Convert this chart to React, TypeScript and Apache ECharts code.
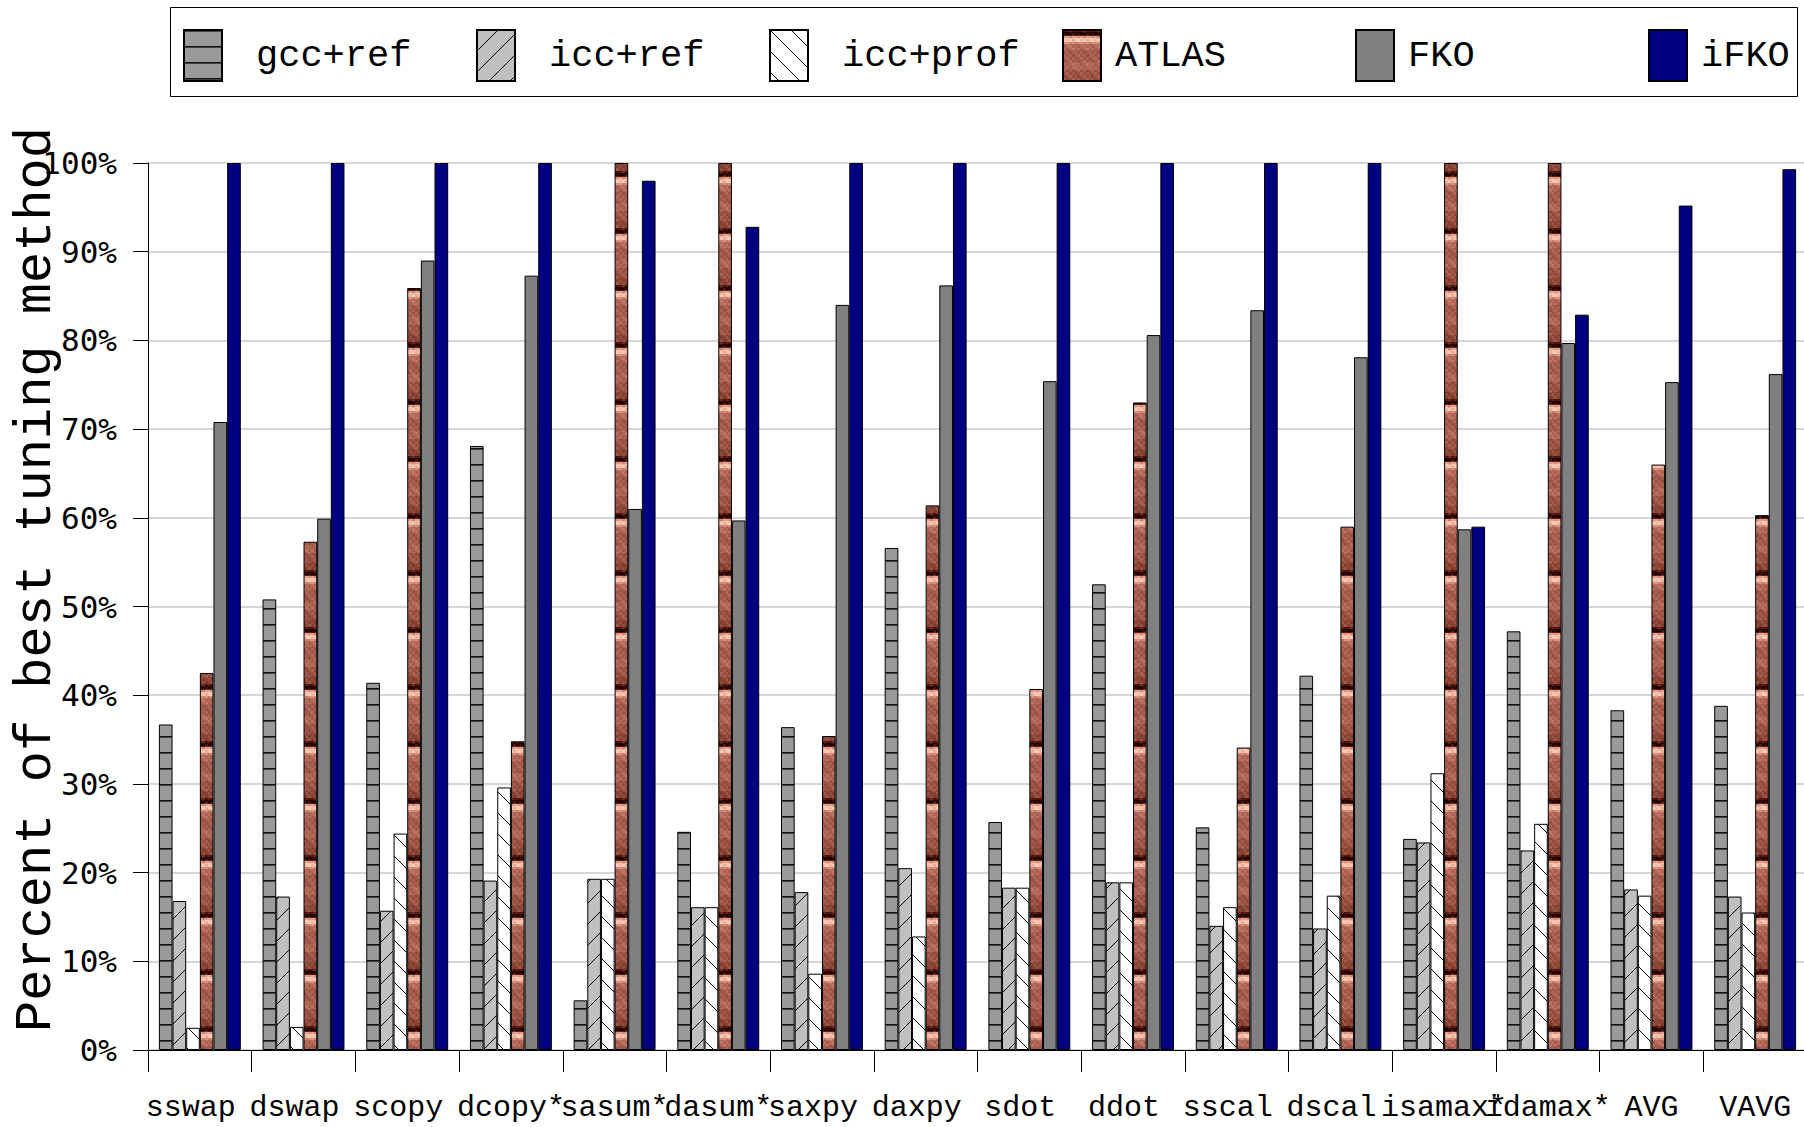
import React, { useEffect, useRef } from 'react';
import * as echarts from 'echarts';

// Kernels on the x axis
const categories = [
  'sswap', 'dswap', 'scopy', 'dcopy*', 'sasum*', 'dasum*', 'saxpy', 'daxpy',
  'sdot', 'ddot', 'sscal', 'dscal', 'isamax*', 'idamax*', 'AVG', 'VAVG',
];

// Tuning methods (legend order)
const methods = ['gcc+ref', 'icc+ref', 'icc+prof', 'ATLAS', 'FKO', 'iFKO'];

// Percent of best tuning method, per kernel
const gccRef = [36.7, 50.8, 41.4, 68.1, 5.6, 24.6, 36.4, 56.6, 25.7, 52.5, 25.1, 42.2, 23.8, 47.2, 38.3, 38.8];
const iccRef = [16.8, 17.3, 15.7, 19.1, 19.3, 16.1, 17.8, 20.5, 18.3, 18.9, 14.0, 13.7, 23.4, 22.5, 18.1, 17.3];
const iccProf = [2.5, 2.6, 24.4, 29.6, 19.3, 16.1, 8.6, 12.8, 18.3, 18.9, 16.1, 17.4, 31.2, 25.5, 17.4, 15.5];
const atlas = [42.5, 57.3, 85.9, 34.8, 100, 100, 35.4, 61.4, 40.7, 73.0, 34.1, 59.0, 100, 100, 66.0, 60.3];
const fko = [70.8, 59.9, 89.0, 87.3, 61.0, 59.7, 84.0, 86.2, 75.4, 80.6, 83.4, 78.1, 58.7, 79.7, 75.3, 76.2];
const ifko = [100, 100, 100, 100, 98.0, 92.8, 100, 100, 100, 100, 100, 100, 59.0, 82.9, 95.2, 99.3];

// Value axis range
const yMin = 0;
const yMax = 100;
const yStep = 10;

type Ctx = CanvasRenderingContext2D;

function makeTile(w: number, h: number, draw: (ctx: Ctx) => void) {
  const c = document.createElement('canvas');
  c.width = w;
  c.height = h;
  const ctx = c.getContext('2d') as Ctx;
  draw(ctx);
  return { image: c, repeat: 'repeat', imageWidth: w, imageHeight: h };
}

// Gray fill ruled with horizontal lines
function ruledFill() {
  return makeTile(16, 16, (ctx) => {
    ctx.fillStyle = '#9a9a9a';
    ctx.fillRect(0, 0, 16, 16);
    ctx.fillStyle = '#111';
    ctx.fillRect(0, 0, 16, 1);
    ctx.fillStyle = '#444';
    ctx.fillRect(0, 1, 16, 1);
  });
}

// Diagonal hatching: dir 1 = "/", dir -1 = "\"
function hatchFill(bg: string, dir: number) {
  const s = 21;
  return makeTile(s, s, (ctx) => {
    ctx.fillStyle = bg;
    ctx.fillRect(0, 0, s, s);
    ctx.strokeStyle = '#000';
    ctx.lineWidth = 1;
    ctx.beginPath();
    for (const o of [-s, 0, s]) {
      if (dir > 0) {
        ctx.moveTo(o - 1, s + 1);
        ctx.lineTo(o + s + 1, -1);
      } else {
        ctx.moveTo(o - 1, -1);
        ctx.lineTo(o + s + 1, s + 1);
      }
    }
    ctx.stroke();
  });
}

// Brownish banded texture
function atlasFill() {
  const bands: [number, string][] = [
    [2, '#5a1508'], [3, '#220000'], [1, '#5a1a10'], [2, '#e89a84'], [4, '#fac4b0'],
    [2, '#d88a74'], [6, '#b86856'], [12, '#a85a4a'], [8, '#b46654'], [10, '#a05242'], [7, '#8e4434'],
  ];
  const w = 14;
  const h = bands.reduce((a, b) => a + b[0], 0);
  return makeTile(w, h, (ctx) => {
    let y = 0;
    for (const [n, col] of bands) {
      ctx.fillStyle = col;
      ctx.fillRect(0, y, w, n);
      y += n;
    }
    for (let by = 0; by < h; by += 3) {
      for (let bx = 0; bx < w; bx += 3) {
        const shade = (((bx / 3) * 7 + (by / 3) * 3) % 5 - 2) * 0.05;
        ctx.fillStyle = shade > 0 ? `rgba(255,255,255,${shade})` : `rgba(0,0,0,${-shade})`;
        ctx.fillRect(bx, by, 3, 3);
      }
    }
  });
}

// Legend slots: left edge of each swatch and the gap before its text
const legendSwatchX = [183, 476, 769, 1062, 1355, 1648];
const legendTextPad = [29, 29, 29, 9, 9, 9];

export default function App() {
  const ref = useRef<HTMLDivElement>(null);

  useEffect(() => {
    if (!ref.current) return;
    const chart = echarts.init(ref.current, undefined, { renderer: 'svg' });

    const fills: any[] = [
      ruledFill(),
      hatchFill('#c0c0c0', 1),
      hatchFill('#ffffff', -1),
      atlasFill(),
      '#808080',
      '#000080',
    ];
    const values = [gccRef, iccRef, iccProf, atlas, fko, ifko];
    const mono = 'Liberation Mono';

    // Kernel names without a trailing star keep a blank slot after them,
    // so they sit half a character left of centre.
    const categoryItems = categories.map((c) => {
      const padded = !c.endsWith('*') && c !== 'AVG' && c !== 'VAVG';
      return padded ? { value: c, textStyle: { padding: [0, 18, 0, 0] } } : { value: c };
    });

    chart.setOption({
      animation: false,
      backgroundColor: '#ffffff',
      graphic: [
        {
          type: 'rect',
          z: -1,
          silent: true,
          shape: { x: 170.5, y: 7.5, width: 1627, height: 89 },
          style: { fill: '#fff', stroke: '#000', lineWidth: 1 },
        },
      ],
      legend: methods.map((name, i) => ({
        data: [name],
        left: legendSwatchX[i],
        top: 29,
        padding: 0,
        itemWidth: 38,
        itemHeight: 51,
        icon: 'rect',
        selectedMode: false,
        textStyle: {
          fontFamily: mono,
          fontSize: 37,
          color: '#000',
          padding: [0, 0, 0, legendTextPad[i]],
        },
      })),
      grid: {
        left: 148,
        top: 163,
        width: 1659,
        height: 887,
        containLabel: false,
        outerBoundsMode: 'none',
      },
      xAxis: {
        type: 'category',
        data: categoryItems,
        boundaryGap: true,
        axisLine: { show: true, lineStyle: { color: '#000', width: 1 } },
        axisTick: { show: true, interval: 0, length: 22, lineStyle: { color: '#000', width: 1 } },
        axisLabel: {
          interval: 0,
          margin: 43,
          fontFamily: mono,
          fontSize: 30,
          color: '#000',
        },
        splitLine: { show: false },
      },
      yAxis: {
        type: 'value',
        min: yMin,
        max: yMax,
        interval: yStep,
        name: 'Percent of best tuning method',
        nameLocation: 'middle',
        nameGap: 86,
        nameMoveOverlap: false,
        nameRotate: 90,
        nameTextStyle: { fontFamily: mono, fontSize: 52, color: '#000', padding: [0, 0, 0, 54] },
        axisLine: { show: true, lineStyle: { color: '#000', width: 1 } },
        axisTick: { show: true, length: 15, lineStyle: { color: '#000', width: 1 } },
        axisLabel: {
          margin: 31,
          formatter: '{value}%',
          fontFamily: 'DejaVu Sans Mono',
          fontSize: 31,
          color: '#000',
        },
        splitLine: { show: true, lineStyle: { color: '#c8c8c8', width: 1.5 } },
      },
      series: methods.map((name, i) => ({
        type: 'bar',
        name,
        data: values[i],
        barGap: '0%',
        barCategoryGap: '21%',
        itemStyle: { color: fills[i], borderColor: '#000', borderWidth: 1 },
        emphasis: { disabled: true },
      })),
    });

    return () => chart.dispose();
  }, []);

  return (
    <div
      ref={ref}
      style={{ position: 'absolute', left: 0, top: 0, width: 1804, height: 1127, background: '#fff' }}
    />
  );
}
